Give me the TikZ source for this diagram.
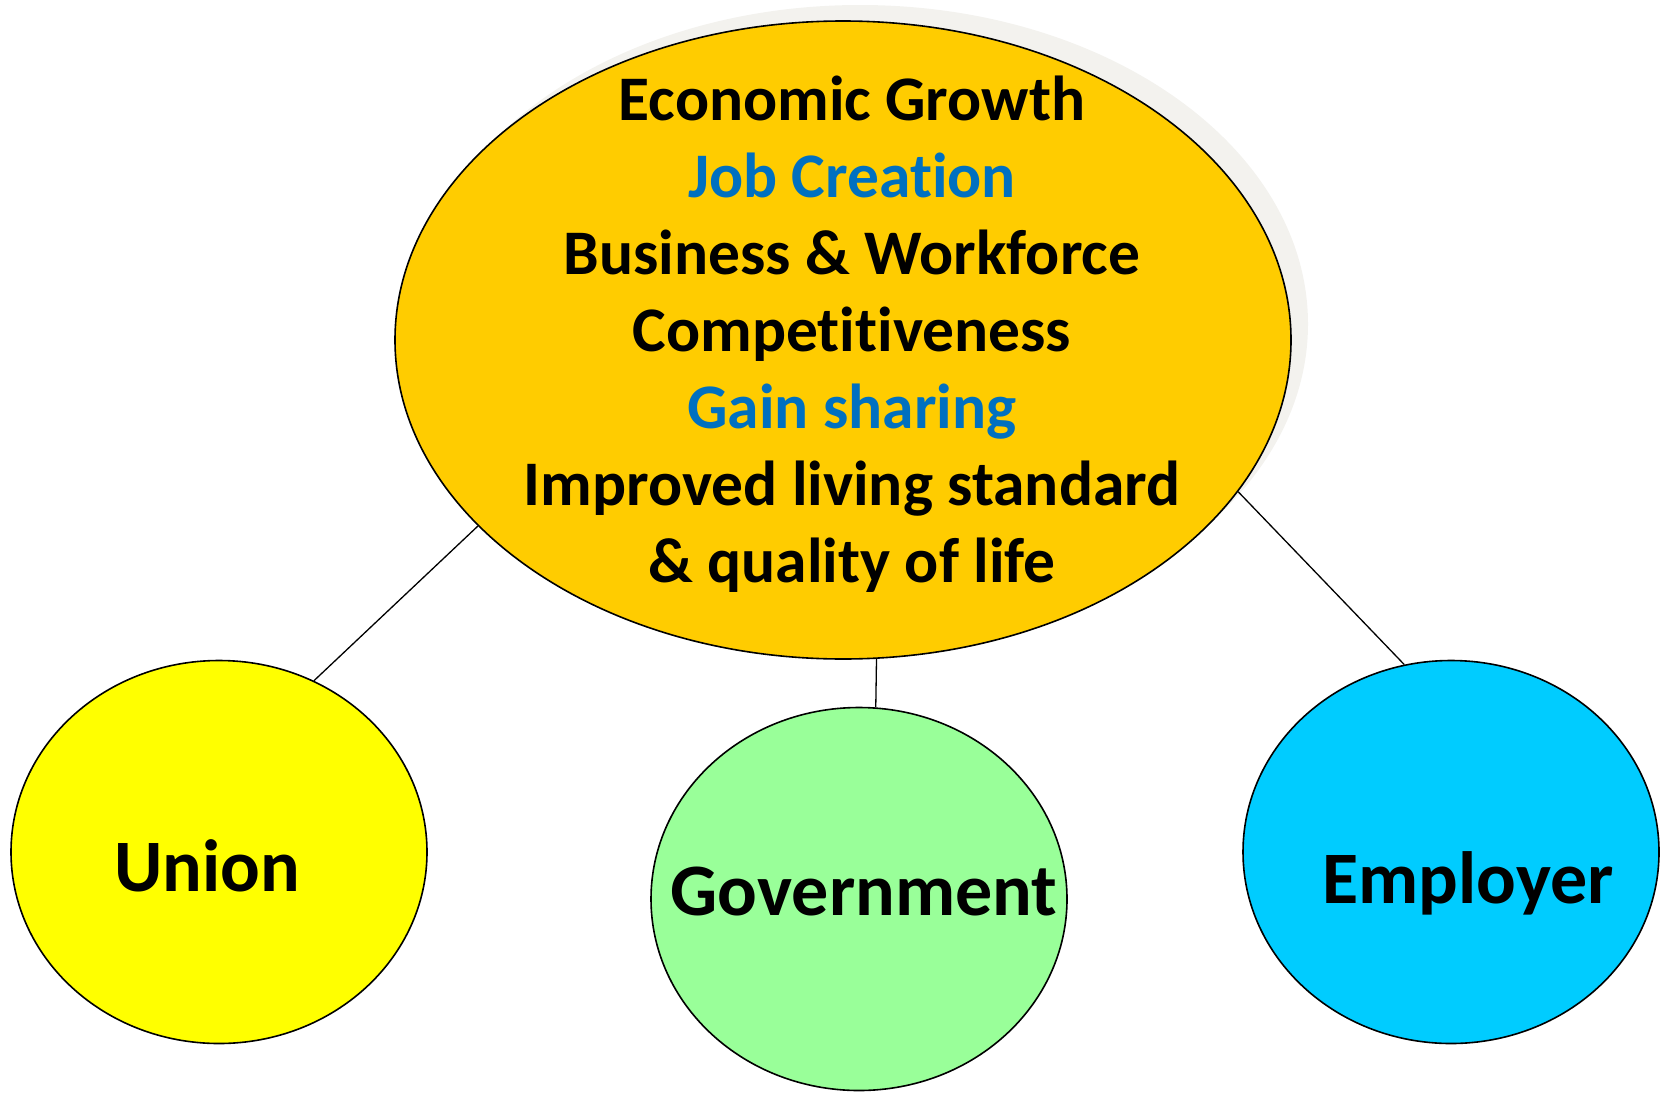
\documentclass[tikz,border=0pt]{standalone}
\usepackage{fontspec}
\setmainfont{Carlito}[Ligatures=NoCommon]
\usetikzlibrary{shapes.geometric}
\definecolor{gold}{HTML}{FFCC00}
\definecolor{shade}{HTML}{F3F2EE}
\definecolor{unionyellow}{HTML}{FFFF00}
\definecolor{govgreen}{HTML}{99FF99}
\definecolor{empblue}{HTML}{00CCFF}
\definecolor{textblue}{HTML}{0070C0}

\begin{document}
\begin{tikzpicture}[x=1pt,y=-1pt,
  party/.style={draw,ellipse,line width=1.6pt,inner sep=0pt,minimum width=416pt,minimum height=383pt},
  link/.style={line width=1.3pt},
  goal/.style={anchor=base,font=\fontsize{63.5}{77}\selectfont\bfseries},
  who/.style={anchor=base,font=\fontsize{74}{88}\selectfont\bfseries}]
\useasboundingbox (0,0) rectangle (1667,1092);
% shadow behind the big ellipse
\node[ellipse,fill=shade,inner sep=0pt,minimum width=896pt,minimum height=638pt] (topshade) at (860,324) {};
\node[draw,ellipse,fill=gold,line width=1.6pt,inner sep=0pt,minimum width=896pt,minimum height=638pt] (top) at (843,340) {};
% the goals, one line each
\foreach \txt/\col [count=\i] in {Economic Growth/black,Job Creation/textblue,Business \& Workforce/black,Competitiveness/black,Gain sharing/textblue,Improved living standard/black,\& quality of life/black}
  \node[goal,text=\col] (goal\i) at (852,{120+77*(\i-1)}) {\txt};
% the three parties
\node[party,fill=unionyellow] (union) at (219,852) {};
\node[party,fill=govgreen] (gov) at (859,899) {};
\node[party,fill=empblue] (emp) at (1451,852) {};
\node[who] (uniontxt) at (207,891) {Union};
\node[who] (govtxt) at (864,915) {Government};
\node[who] (emptxt) at (1468,903) {Employer};
\draw[link] (top.207.7) -- (union.61);
\draw[link] (top.276) -- (gov.85);
\draw[link] (top.339.3) -- (emp.104);
\end{tikzpicture}
\end{document}
